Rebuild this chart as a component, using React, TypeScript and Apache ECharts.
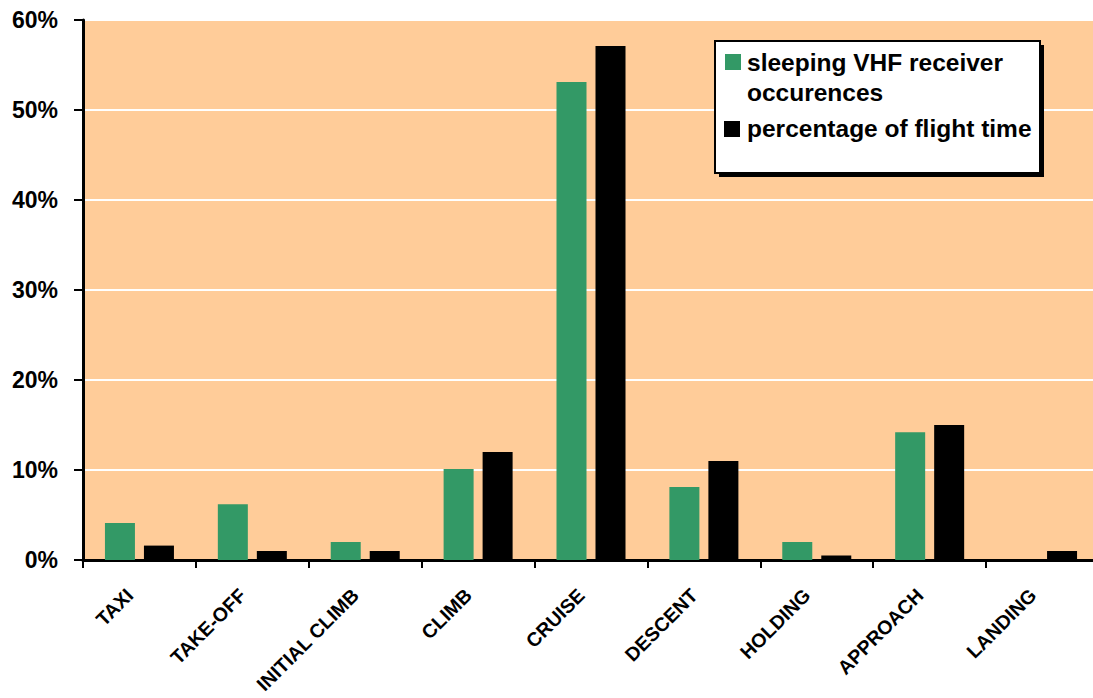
import React, { useEffect, useRef } from "react";
import * as echarts from "echarts";

const categories = ["TAXI", "TAKE-OFF", "INITIAL CLIMB", "CLIMB", "CRUISE", "DESCENT", "HOLDING", "APPROACH", "LANDING"];
const sleepingVhf = [4.1, 6.2, 2.0, 10.1, 53.1, 8.1, 2.0, 14.2, 0];
const flightTime = [1.6, 1.0, 1.0, 12.0, 57.1, 11.0, 0.5, 15.0, 1.0];
const seriesNames = ["sleeping VHF receiver\noccurences", "percentage of flight time"];
const seriesColors = ["#339966", "#000000"];
const yTicks = { min: 0, max: 60, interval: 10 };

const FONT = "'Liberation Sans', Arial, sans-serif";

export default function App() {
  const ref = useRef<HTMLDivElement>(null);
  useEffect(() => {
    if (!ref.current) return;
    const chart = echarts.init(ref.current, null, { renderer: "svg" });
    const legendLines = seriesNames[0].split("\n");
    chart.setOption({
      animation: false,
      backgroundColor: "#ffffff",
      grid: {
        left: 83, right: -6, top: 20, bottom: 138,
        containLabel: false, outerBoundsMode: "none",
        show: true, backgroundColor: "#FFCC99", borderWidth: 0,
      },
      xAxis: {
        type: "category",
        data: categories,
        boundaryGap: true,
        axisLine: { show: true, lineStyle: { color: "#000", width: 3 } },
        axisTick: { show: true, length: 8, lineStyle: { color: "#000", width: 2 } },
        axisLabel: {
          rotate: 45,
          interval: 0,
          margin: 22,
          padding: [0, 14, 0, 0],
          fontFamily: FONT,
          fontWeight: "bold",
          fontSize: 19.5,
          color: "#000",
        },
        splitLine: { show: false },
      },
      yAxis: {
        type: "value",
        min: yTicks.min,
        max: yTicks.max,
        interval: yTicks.interval,
        axisLine: { show: true, lineStyle: { color: "#000", width: 3 } },
        axisTick: { show: true, length: 9, lineStyle: { color: "#000", width: 2 } },
        axisLabel: {
          formatter: "{value}%",
          margin: 25,
          fontFamily: FONT,
          fontWeight: "bold",
          fontSize: 23,
          color: "#000",
        },
        splitLine: { show: true, lineStyle: { color: "#ffffff", width: 2 } },
      },
      legend: { show: false },
      series: [
        {
          name: seriesNames[0],
          type: "bar",
          data: sleepingVhf,
          barWidth: 30,
          barGap: "30%",
          itemStyle: { color: seriesColors[0] },
        },
        {
          name: seriesNames[1],
          type: "bar",
          data: flightTime,
          barWidth: 30,
          barGap: "30%",
          itemStyle: { color: seriesColors[1] },
        },
      ],
      graphic: [
        { type: "rect", z: 50, shape: { x: 719, y: 45, width: 325, height: 132 }, style: { fill: "#000" } },
        { type: "rect", z: 51, shape: { x: 715, y: 41, width: 325, height: 132 }, style: { fill: "#fff", stroke: "#000", lineWidth: 2 } },
        { type: "rect", z: 52, shape: { x: 725, y: 54, width: 16, height: 16 }, style: { fill: seriesColors[0] } },
        { type: "rect", z: 52, shape: { x: 724, y: 121, width: 16, height: 16 }, style: { fill: seriesColors[1] } },
        {
          type: "text", z: 52, x: 747, y: 62,
          style: { text: legendLines[0], fontFamily: FONT, fontWeight: "bold", fontSize: 24.5, fill: "#000", verticalAlign: "middle" },
        },
        {
          type: "text", z: 52, x: 747, y: 92,
          style: { text: legendLines[1], fontFamily: FONT, fontWeight: "bold", fontSize: 24.5, fill: "#000", verticalAlign: "middle" },
        },
        {
          type: "text", z: 52, x: 747, y: 128,
          style: { text: seriesNames[1], fontFamily: FONT, fontWeight: "bold", fontSize: 24.5, fill: "#000", verticalAlign: "middle" },
        },
      ],
    });
    return () => chart.dispose();
  }, []);
  return (
    <div
      ref={ref}
      style={{ position: "fixed", left: 0, top: 0, width: 1093, height: 698, overflow: "hidden" }}
    />
  );
}
